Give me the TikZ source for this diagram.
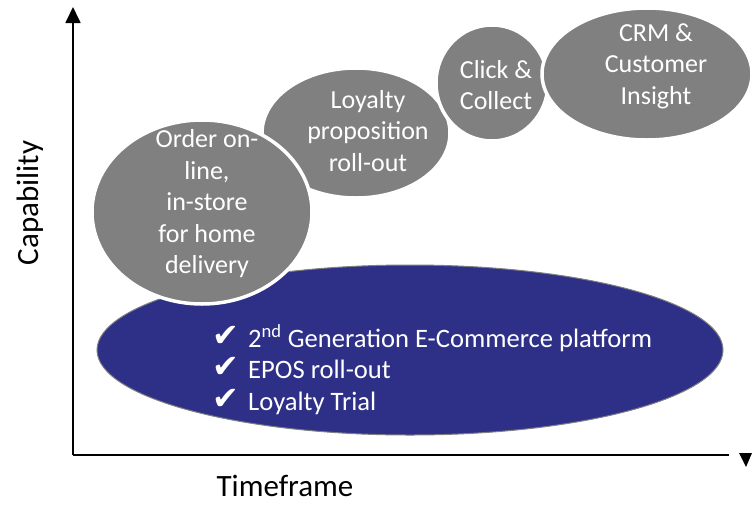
\documentclass[tikz,border=0pt]{standalone}
\usepackage{fontspec}
\setmainfont{Carlito}
\newfontfamily\symfont{DejaVu Sans}
\usetikzlibrary{shapes.geometric,arrows.meta}
\definecolor{bubgray}{RGB}{128,128,128}
\definecolor{platblue}{RGB}{46,48,136}
\begin{document}
\begin{tikzpicture}[x=1pt,y=-1pt,
  bubble/.style={ellipse,fill=bubgray,draw=white,line width=3.5pt,inner sep=0pt},
  bubtext/.style={text=white,align=center,font=\fontsize{26}{31.5}\selectfont},
  listtext/.style={text=white,anchor=base west,inner sep=0pt,font=\fontsize{26.6}{31.5}\selectfont},
  tick/.style={text=white,anchor=base west,inner sep=0pt,font=\symfont\fontsize{32}{32}\selectfont},
  axislabel/.style={anchor=base,inner sep=0pt,font=\fontsize{31}{36}\selectfont},
  axisline/.style={line width=1.8pt}]
\useasboundingbox (0,0) rectangle (755,504);
% axes
\coordinate (O) at (73,455);
\coordinate (Ytip) at (73,7);
\coordinate (Xend) at (729,455);
\draw[axisline,-{Triangle[width=15pt,length=16pt]}] (O) -- (Ytip);
\draw[axisline] (O) -- (Xend);
\fill (739,453) -- (752,453) -- (746,467) -- cycle;
\node[axislabel,rotate=90] (cap) at (38,203) {Capability};
\node[axislabel] (time) at (285,496) {Timeframe};
% platform ellipse
\node[ellipse,fill=platblue,draw=gray,line width=1pt,inner sep=0pt,minimum width=626pt,minimum height=170pt] (plat) at (410,350) {};
% bubbles
\node[bubble,minimum width=188pt,minimum height=130pt] (loy) at (356,133) {};
\node[bubble,minimum width=112pt,minimum height=116pt] (click) at (492,83) {};
\node[bubble,minimum width=210pt,minimum height=132pt] (crm) at (647,74) {};
\node[bubble,minimum width=220pt,minimum height=184pt] (order) at (202,212) {};
% bubble texts
\node[bubtext] (tloy) at (368,131) {Loyalty\\proposition\\roll-out};
\node[bubtext] (tclick) at (496,85) {Click \&\\Collect};
\node[bubtext] (tcrm) at (656,66) {CRM \&\\Customer\\Insight};
\node[bubtext] (torder) at (207,204) {Order on-\\line,\\in-store\\for home\\delivery};
% list
\node[tick] (c1) at (212,346) {✔};
\node[tick] (c2) at (212,377) {✔};
\node[tick] (c3) at (212,409) {✔};
\node[listtext] (l1) at (248,347) {2\textsuperscript{nd} Generation E-Commerce platform};
\node[listtext] (l2) at (248,378) {EPOS roll-out};
\node[listtext] (l3) at (248,410) {Loyalty Trial};
\end{tikzpicture}
\end{document}
